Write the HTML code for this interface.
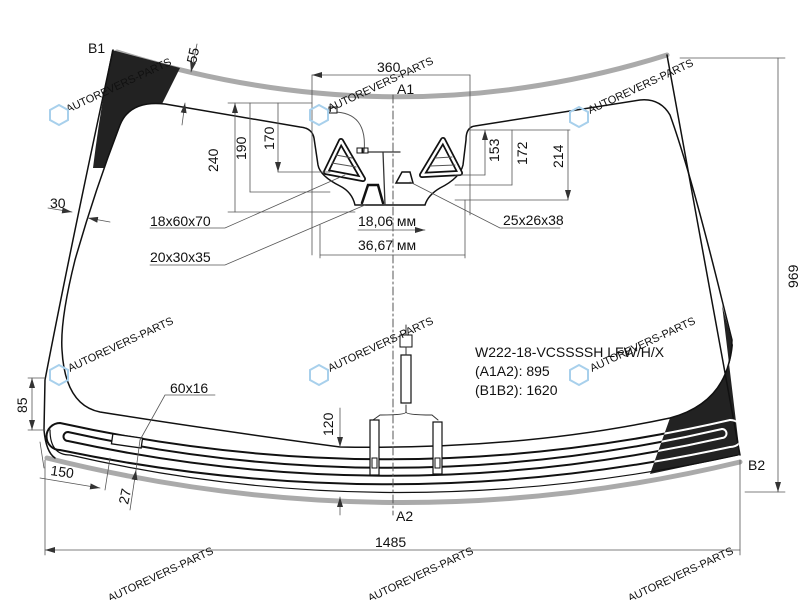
<!DOCTYPE html>
<html><head><meta charset="utf-8"><style>
html,body{margin:0;padding:0;background:#fff;width:800px;height:600px;overflow:hidden}
svg{display:block}
text{font-family:"Liberation Sans",Arial,sans-serif;fill:#111}
.wm{fill:#a8d0ec;font-size:11px}
</style></head><body>
<svg width="800" height="600" viewBox="0 0 800 600" xmlns="http://www.w3.org/2000/svg">
<defs>
<marker id="a" viewBox="0 0 10 6" refX="10" refY="3" markerWidth="10" markerHeight="6" orient="auto-start-reverse" markerUnits="userSpaceOnUse"><path d="M0,0 L10,3 L0,6 Z" fill="#333"/></marker>
<clipPath id="rp"><path d="M722,305 L740,455 L650,474 L670,418 Q728,400 733,345 Z"/></clipPath>
</defs>
<g fill="none" stroke-linecap="round">
<!-- gray bands -->
<path d="M117,52 Q395,140 667,55" stroke="#aaa" stroke-width="5"/>
<path d="M47,458 Q395,545 740,462" stroke="#aaa" stroke-width="5"/>
<!-- black patches -->
<path d="M112,50 L180,68 L162,104 Q128,102 120,125 L104,168 L93,168 Q100,110 112,50 Z" fill="#222" stroke="none"/>
<path d="M722,305 L740,455 L650,474 L670,418 Q728,400 733,345 Z" fill="#222" stroke="none"/>
<!-- outer edges -->
<path d="M113,50 Q70,250 45,380 L44,430 Q46,452 55,458" stroke="#111" stroke-width="1.5"/>
<path d="M667,55 Q700,240 740,455" stroke="#111" stroke-width="1.5"/>
<!-- frit line (continuous) -->
<path d="M670,418 Q730,402 732,340 L722,300 Q690,170 670,115 Q660,98 640,100 L475,126 Q466,127 466,140 L463,165 Q460,178 440,188 Q428,195 425,205 L355,205 Q352,192 340,186 Q320,176 318,165 L314,138 Q312,128 300,127 L165,104 Q130,100 120,125 Q95,190 75,260 Q60,320 62,350 Q65,405 100,412 Q200,428 340,447 Q520,450 670,418" stroke="#111" stroke-width="1.5"/>
<!-- heating lines -->
<g stroke="#111" stroke-width="2">
<path d="M730,420 Q395,497 60,423 A13.5,13.5 0 0 0 60,450 Q395,520 730,447"/>
<path d="M722,429 Q395,505 68,432 A4.5,4.5 0 0 0 68,441 Q395,512 722,438"/>
</g>
<path d="M50,430 Q50,455 70,455 Q395,530 738,455" stroke="#111" stroke-width="1.2"/>
<!-- white parts inside patch -->
<g stroke="#fff" stroke-width="2" clip-path="url(#rp)">
<path d="M730,420 Q395,497 60,423 M60,450 Q395,520 730,447 M722,429 Q395,505 68,432 M68,441 Q395,512 722,438"/>
<path d="M730,420 A13.5,13.5 0 0 1 730,447 M722,429 A4.5,4.5 0 0 1 722,438"/>
</g>
<path d="M730,420 A13.5,13.5 0 0 1 730,447" stroke="#222" stroke-width="0" />
<rect x="112" y="436" width="30" height="10" stroke="#111" stroke-width="1.3" fill="#fff" transform="rotate(8 127 441)"/>
<!-- center dash line -->
<path d="M393,95 L393,515" stroke="#555" stroke-width="1" stroke-dasharray="8,3,2,3"/>
<!-- sensor area -->
<path d="M341,141 L326,172 L363,179 Z" stroke="#111" stroke-width="6" stroke-linejoin="round"/>
<path d="M341,141 L326,172 L363,179 Z" stroke="#fff" stroke-width="2.5" stroke-linejoin="round"/>
<path d="M336,155 L352,158 M332,163 L356,167" stroke="#555"/>
<path d="M443,140 L460,173 L422,175 Z" stroke="#111" stroke-width="6" stroke-linejoin="round"/>
<path d="M443,140 L460,173 L422,175 Z" stroke="#fff" stroke-width="2.5" stroke-linejoin="round"/>
<path d="M435,158 L452,157 M430,166 L455,165" stroke="#555"/>
<path d="M362,203 L368,185 L378,185 L383,203" stroke="#111" stroke-width="2.5"/>
<path d="M368,152 L400,152 M383,152 L385,205" stroke="#333" stroke-width="1.3"/>
<path d="M396,183 L402,172 L410,172 L413,183 Z" stroke="#111" stroke-width="1.5"/>
<path d="M333,112 Q368,112 364,152" stroke="#555" stroke-width="1"/>
<rect x="329" y="107" width="8" height="6" stroke="#111" fill="#fff"/>
<rect x="357" y="148" width="5" height="5" stroke="#111"/><rect x="363" y="148" width="5" height="5" stroke="#111"/>
<!-- rain sensor strip -->
<rect x="401" y="355" width="10" height="48" stroke="#111" stroke-width="1.2" fill="#fff"/>
<rect x="400" y="335" width="12" height="12" stroke="#111" fill="#fff"/>
<path d="M406,325 L406,335 M406,347 L406,355" stroke="#333"/>
<path d="M406,405 L406,412 Q406,415 380,415 L373,420 M406,412 Q406,415 432,415 L438,420" stroke="#333"/>
<rect x="370" y="420" width="9" height="55" stroke="#111" stroke-width="1.2" fill="#fff"/>
<rect x="433" y="422" width="9" height="52" stroke="#111" stroke-width="1.2" fill="#fff"/>
<rect x="372" y="458" width="5" height="10" stroke="#111"/>
<rect x="435" y="458" width="5" height="10" stroke="#111"/>
<!-- dimension lines -->
<g stroke="#555" stroke-width="0.8">
<path d="M312,75 L312,255 M470,75 L470,215 M320,225 L320,258 M465,200 L465,258"/>
<path d="M312,75 L470,75 M320,255 L465,255 M358,230 L425,230" marker-start="url(#a)" marker-end="url(#a)"/>
<path d="M45,460 L45,555 M740,460 L740,555 M680,58 L785,58 M745,492 L785,492"/>
<path d="M45,550 L740,550 M778,58 L778,492" marker-start="url(#a)" marker-end="url(#a)"/>
<path d="M228,103 L312,103 M228,212 L355,212 M250,192 L330,192 M278,172 L330,172"/>
<path d="M235,103 L235,212 M250,103 L250,192 M278,103 L278,172" marker-start="url(#a)" marker-end="url(#a)"/>
<path d="M470,130 L570,130 M455,175 L485,175 M455,185 L512,185 M455,200 L568,200"/>
<path d="M485,130 L485,175 M512,130 L512,185 M568,130 L568,200" marker-start="url(#a)" marker-end="url(#a)"/>
<path d="M150,228 L225,228 L345,175 M150,265 L225,265 L365,205 M560,228 L500,228 L410,182"/>
<path d="M28,378 L45,378 M28,430 L45,430"/>
<path d="M32,378 L32,430" marker-start="url(#a)" marker-end="url(#a)"/>
<path d="M44,468 L40,442"/>
<path d="M40,478 L100,488" marker-end="url(#a)"/><path d="M105,490 L110,458"/>
<path d="M130,510 L136,470" marker-end="url(#a)"/><path d="M140,440 L136,470"/>
<path d="M215,395 L165,395 L140,440"/>
<path d="M340,408 L340,447" marker-end="url(#a)"/><path d="M340,515 L340,497" marker-end="url(#a)"/>
<path d="M197,44 L191,72" marker-end="url(#a)"/><path d="M182,125 L185,103" marker-end="url(#a)"/>
<path d="M48,208 L72,212" marker-end="url(#a)"/><path d="M110,222 L88,218" marker-end="url(#a)"/>
</g>
</g>
<!-- text -->
<g font-size="14">
<text x="88" y="53">B1</text>
<text x="377" y="72">360</text>
<text x="397" y="94">A1</text>
<text x="50" y="208">30</text>
<text x="150" y="226">18x60x70</text>
<text x="150" y="262">20x30x35</text>
<text x="358" y="226">18,06 мм</text>
<text x="358" y="250">36,67 мм</text>
<text x="503" y="225">25x26x38</text>
<text x="475" y="357">W222-18-VCSSSSH LFW/H/X</text>
<text x="475" y="376">(A1A2): 895</text>
<text x="475" y="395">(B1B2): 1620</text>
<text x="170" y="393">60x16</text>
<text x="396" y="521">A2</text>
<text x="748" y="470">B2</text>
<text x="375" y="547">1485</text>
<text transform="translate(196,64) rotate(-78)">55</text>
<text transform="translate(218,172) rotate(-90)">240</text>
<text transform="translate(246,160) rotate(-90)">190</text>
<text transform="translate(274,150) rotate(-90)">170</text>
<text transform="translate(499,162) rotate(-90)">153</text>
<text transform="translate(527,165) rotate(-90)">172</text>
<text transform="translate(563,168) rotate(-90)">214</text>
<text transform="translate(27,413) rotate(-90)">85</text>
<text transform="translate(50,475) rotate(8)">150</text>
<text transform="translate(128,505) rotate(-78)">27</text>
<text transform="translate(333,436) rotate(-90)">120</text>
<text transform="translate(798,288) rotate(-90)">969</text>
</g>
<!-- watermarks -->
<g class="wm">
<text transform="translate(68,113) rotate(-25)">AUTOREVERS-PARTS</text>
<text transform="translate(330,112) rotate(-25)">AUTOREVERS-PARTS</text>
<text transform="translate(590,114) rotate(-25)">AUTOREVERS-PARTS</text>
<text transform="translate(70,372) rotate(-25)">AUTOREVERS-PARTS</text>
<text transform="translate(330,372) rotate(-25)">AUTOREVERS-PARTS</text>
<text transform="translate(592,372) rotate(-25)">AUTOREVERS-PARTS</text>
<text transform="translate(110,602) rotate(-25)">AUTOREVERS-PARTS</text>
<text transform="translate(370,602) rotate(-25)">AUTOREVERS-PARTS</text>
<text transform="translate(630,602) rotate(-25)">AUTOREVERS-PARTS</text>
</g>
<g fill="none" stroke="#a8d0ec" stroke-width="2">
<path d="M50,110 l9,-5 9,5 0,10 -9,5 -9,-5 Z"/><path d="M310,110 l9,-5 9,5 0,10 -9,5 -9,-5 Z"/><path d="M570,112 l9,-5 9,5 0,10 -9,5 -9,-5 Z"/>
<path d="M50,370 l9,-5 9,5 0,10 -9,5 -9,-5 Z"/><path d="M310,370 l9,-5 9,5 0,10 -9,5 -9,-5 Z"/><path d="M570,370 l9,-5 9,5 0,10 -9,5 -9,-5 Z"/>
</g>
</svg>
</body></html>
